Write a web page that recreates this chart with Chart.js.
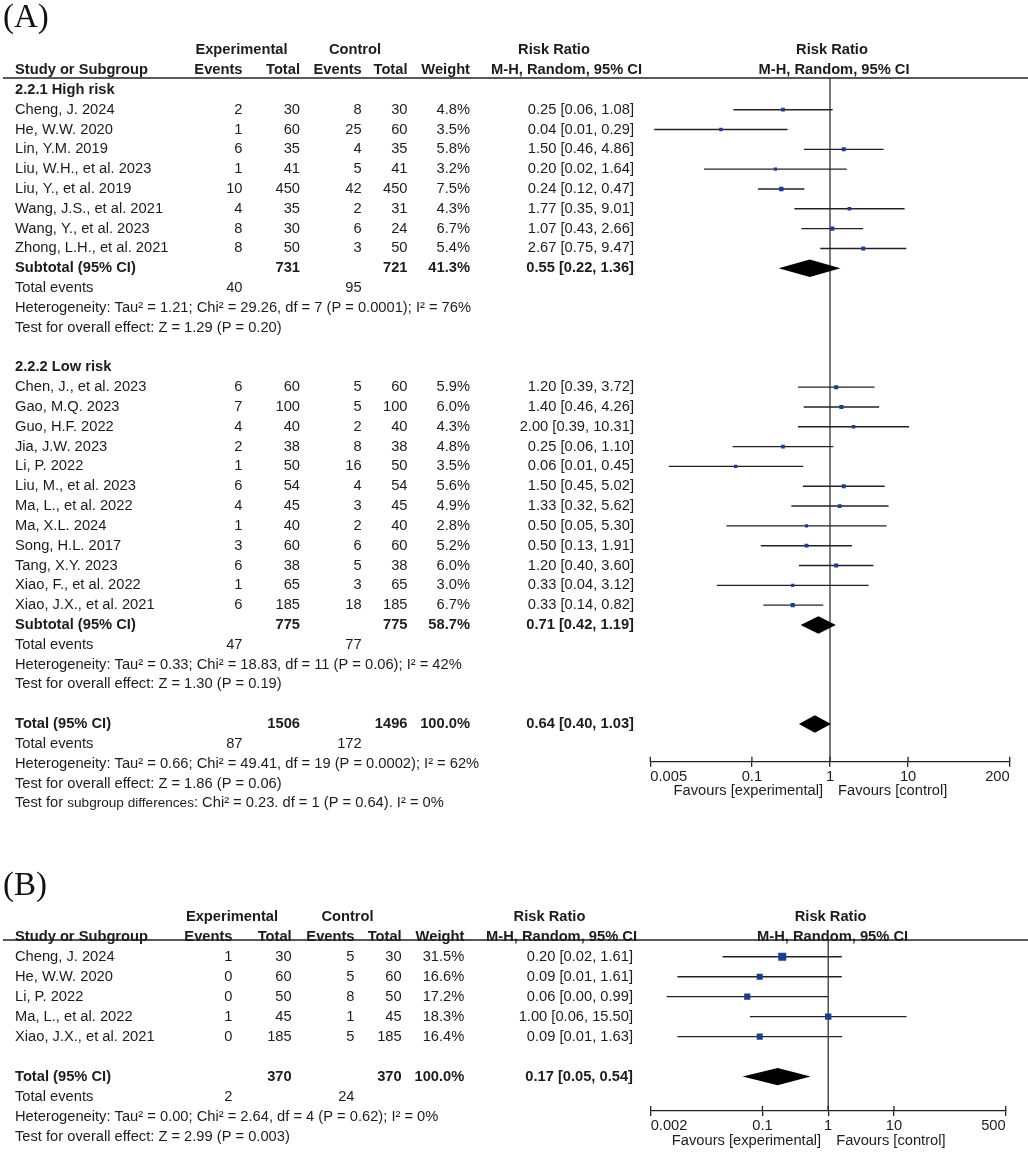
<!DOCTYPE html>
<html>
<head>
<meta charset="utf-8">
<script src="https://cdn.jsdelivr.net/npm/chart.js@4.4.1/dist/chart.umd.min.js"></script>
<style>
  body { margin: 0; background: #fff; width: 1028px; height: 1157px; position: relative; overflow: hidden; }
  canvas { position: absolute; left: 0; }
  #chartA { top: 0; }
  #chartB { top: 860px; }
</style>
</head>
<body>
<canvas id="chartA"></canvas>
<canvas id="chartB"></canvas>
<script>
// --- (A) 2.2.1 High risk ---
const highNames = ['Cheng, J. 2024', 'He, W.W. 2020', 'Lin, Y.M. 2019', 'Liu, W.H., et al. 2023', 'Liu, Y., et al. 2019', 'Wang, J.S., et al. 2021', 'Wang, Y., et al. 2023', 'Zhong, L.H., et al. 2021'];
const highExpEvents = [2, 1, 6, 1, 10, 4, 8, 8];
const highExpTotal  = [30, 60, 35, 41, 450, 35, 30, 50];
const highCtlEvents = [8, 25, 4, 5, 42, 2, 6, 3];
const highCtlTotal  = [30, 60, 35, 41, 450, 31, 24, 50];
const highWeight    = [4.8, 3.5, 5.8, 3.2, 7.5, 4.3, 6.7, 5.4];
const highRR        = [0.25, 0.04, 1.50, 0.20, 0.238, 1.77, 1.067, 2.667];
const highLo        = [0.058, 0.0056, 0.463, 0.0244, 0.12, 0.35, 0.43, 0.75];
const highHi        = [1.08, 0.286, 4.86, 1.64, 0.47, 9.01, 2.66, 9.47];

// --- (A) 2.2.2 Low risk ---
const lowNames = ['Chen, J., et al. 2023', 'Gao, M.Q. 2023', 'Guo, H.F. 2022', 'Jia, J.W. 2023', 'Li, P. 2022', 'Liu, M., et al. 2023', 'Ma, L., et al. 2022', 'Ma, X.L. 2024', 'Song, H.L. 2017', 'Tang, X.Y. 2023', 'Xiao, F., et al. 2022', 'Xiao, J.X., et al. 2021'];
const lowExpEvents = [6, 7, 4, 2, 1, 6, 4, 1, 3, 6, 1, 6];
const lowExpTotal  = [60, 100, 40, 38, 50, 54, 45, 40, 60, 38, 65, 185];
const lowCtlEvents = [5, 5, 2, 8, 16, 4, 3, 2, 6, 5, 3, 18];
const lowCtlTotal  = [60, 100, 40, 38, 50, 54, 45, 40, 60, 38, 65, 185];
const lowWeight    = [5.9, 6.0, 4.3, 4.8, 3.5, 5.6, 4.9, 2.8, 5.2, 6.0, 3.0, 6.7];
const lowRR        = [1.20, 1.40, 2.00, 0.25, 0.062, 1.50, 1.333, 0.50, 0.50, 1.20, 0.333, 0.333];
const lowLo        = [0.39, 0.46, 0.39, 0.0568, 0.0086, 0.45, 0.32, 0.0472, 0.13, 0.40, 0.0356, 0.14];
const lowHi        = [3.72, 4.26, 10.31, 1.10, 0.4536, 5.02, 5.62, 5.30, 1.91, 3.60, 3.12, 0.82];

// --- (A) subtotals [High, Low] ---
const subExpTotal  = [731, 775];
const subCtlTotal  = [721, 775];
const subWeight    = [41.3, 58.7];
const subRR        = [0.55, 0.71];
const subLo        = [0.22, 0.42];
const subHi        = [1.36, 1.19];
const subExpEvents = [40, 47];
const subCtlEvents = [95, 77];
const subHet  = ['Heterogeneity: Tau² = 1.21; Chi² = 29.26, df = 7 (P = 0.0001); I² = 76%',
                 'Heterogeneity: Tau² = 0.33; Chi² = 18.83, df = 11 (P = 0.06); I² = 42%'];
const subTest = ['Test for overall effect: Z = 1.29 (P = 0.20)',
                 'Test for overall effect: Z = 1.30 (P = 0.19)'];

// --- totals [A, B] ---
const allExpTotal  = [1506, 370];
const allCtlTotal  = [1496, 370];
const allRR        = [0.64, 0.17];
const allLo        = [0.40, 0.05];
const allHi        = [1.03, 0.54];
const allExpEvents = [87, 2];
const allCtlEvents = [172, 24];
const allHet  = ['Heterogeneity: Tau² = 0.66; Chi² = 49.41, df = 19 (P = 0.0002); I² = 62%',
                 'Heterogeneity: Tau² = 0.00; Chi² = 2.64, df = 4 (P = 0.62); I² = 0%'];
const allTest = ['Test for overall effect: Z = 1.86 (P = 0.06)',
                 'Test for overall effect: Z = 2.99 (P = 0.003)'];
const subgroupTest = ['Test for ', 'subgroup differences', ': Chi² = 0.23. df = 1 (P = 0.64). I² = 0%'];

// --- (B) ---
const bNames     = ['Cheng, J. 2024', 'He, W.W. 2020', 'Li, P. 2022', 'Ma, L., et al. 2022', 'Xiao, J.X., et al. 2021'];
const bExpEvents = [1, 0, 0, 1, 0];
const bExpTotal  = [30, 60, 50, 45, 185];
const bCtlEvents = [5, 5, 8, 1, 5];
const bCtlTotal  = [30, 60, 50, 45, 185];
const bWeight    = [31.5, 16.6, 17.2, 18.3, 16.4];
const bRR        = [0.20, 0.0909, 0.0588, 1.00, 0.0909];
const bLo        = [0.0248, 0.0051, 0.0035, 0.0645, 0.0051];
const bHi        = [1.61, 1.61, 0.99, 15.50, 1.63];

// --- axis ticks ---
const ticksA = [0.005, 0.1, 1, 10, 200];
const tickLabelsA = ['0.005', '0.1', '1', '10', '200'];
const ticksB = [0.002, 0.1, 1, 10, 500];
const tickLabelsB = ['0.002', '0.1', '1', '10', '500'];

// --- styles ---
const FONT = '"Liberation Sans", Arial, sans-serif';
const FS = 14.7;
const TEXT = '#1c1c1c';
const LINE = '#222222';
const BLUE = '#1d3d91';
const AXIS_H = 44;
const DIAMOND_H = 8.7;

// --- helpers ---
const T = (t, x, align) => ({ t, x, align, bold: false });
const B = (t, x, align) => ({ t, x, align, bold: true });
const ci = (rr, lo, hi) => rr.toFixed(2) + ' [' + lo.toFixed(2) + ', ' + hi.toFixed(2) + ']';
const pct = w => w.toFixed(1) + '%';

function headerRows(c, r) {
    return [
        { r: r, cells: [B('Experimental', c.hExp, 'center'), B('Control', c.hCtl, 'center'),
                        B('Risk Ratio', c.hRR1, 'center'), B('Risk Ratio', c.hPlot1, 'center')] },
        { r: r + 1, cells: [B('Study or Subgroup', c.name, 'left'), B('Events', c.expEv, 'right'),
                            B('Total', c.expTot, 'right'), B('Events', c.ctlEv, 'right'),
                            B('Total', c.ctlTot, 'right'), B('Weight', c.weight, 'right'),
                            B('M-H, Random, 95% CI', c.hRR2, 'center'), B('M-H, Random, 95% CI', c.hPlot2, 'center')] }
    ];
}

function addStudies(p, c, start, names, ee, et, ce, ct, w, rr, lo, hi) {
    names.forEach((n, i) => {
        const r = start + i;
        p.rows.push({ r, cells: [T(n, c.name, 'left'), T(String(ee[i]), c.expEv, 'right'),
            T(String(et[i]), c.expTot, 'right'), T(String(ce[i]), c.ctlEv, 'right'),
            T(String(ct[i]), c.ctlTot, 'right'), T(pct(w[i]), c.weight, 'right'),
            T(ci(rr[i], lo[i], hi[i]), c.ci, 'right')] });
        p.marks.push({ row: r, rr: rr[i], lo: lo[i], hi: hi[i], w: w[i] });
    });
}

function addSummary(p, c, r, label, et, ct, w, rr, lo, hi) {
    p.rows.push({ r, cells: [B(label, c.name, 'left'), B(String(et), c.expTot, 'right'),
        B(String(ct), c.ctlTot, 'right'), B(pct(w), c.weight, 'right'), B(ci(rr, lo, hi), c.ci, 'right')] });
    p.diamonds.push({ row: r, rr, lo, hi });
}

function addFooter(p, c, r, ee, ce, het, test) {
    p.rows.push({ r, cells: [T('Total events', c.name, 'left'), T(String(ee), c.expEv, 'right'), T(String(ce), c.ctlEv, 'right')] });
    p.rows.push({ r: r + 1, cells: [T(het, c.name, 'left')] });
    p.rows.push({ r: r + 2, cells: [T(test, c.name, 'left')] });
}

// --- panel (A) ---
const colsA = { name: 15, expEv: 242.5, expTot: 300, ctlEv: 361.7, ctlTot: 407.5, weight: 470, ci: 634,
                hExp: 241.5, hCtl: 355, hRR1: 554, hRR2: 566.5, hPlot1: 832, hPlot2: 834 };
const panelA = {
    id: 'chartA', width: 1028, height: 840, title: '(A)', titleY: 18.5,
    area: { left: 650.3, right: 1009.7, top: 78, bottom: 761.7 },
    yMin: -1.6, yMax: 32.9, xMin: 0.005, xMax: 200, ticks: ticksA, tickLabels: tickLabelsA,
    rows: headerRows(colsA, -3), marks: [], diamonds: []
};
panelA.rows.push({ r: -1, cells: [B('2.2.1 High risk', colsA.name, 'left')] });
addStudies(panelA, colsA, 0, highNames, highExpEvents, highExpTotal, highCtlEvents, highCtlTotal, highWeight, highRR, highLo, highHi);
addSummary(panelA, colsA, 8, 'Subtotal (95% CI)', subExpTotal[0], subCtlTotal[0], subWeight[0], subRR[0], subLo[0], subHi[0]);
addFooter(panelA, colsA, 9, subExpEvents[0], subCtlEvents[0], subHet[0], subTest[0]);
panelA.rows.push({ r: 13, cells: [B('2.2.2 Low risk', colsA.name, 'left')] });
addStudies(panelA, colsA, 14, lowNames, lowExpEvents, lowExpTotal, lowCtlEvents, lowCtlTotal, lowWeight, lowRR, lowLo, lowHi);
addSummary(panelA, colsA, 26, 'Subtotal (95% CI)', subExpTotal[1], subCtlTotal[1], subWeight[1], subRR[1], subLo[1], subHi[1]);
addFooter(panelA, colsA, 27, subExpEvents[1], subCtlEvents[1], subHet[1], subTest[1]);
addSummary(panelA, colsA, 31, 'Total (95% CI)', allExpTotal[0], allCtlTotal[0], 100, allRR[0], allLo[0], allHi[0]);
addFooter(panelA, colsA, 32, allExpEvents[0], allCtlEvents[0], allHet[0], allTest[0]);
panelA.rows.push({ r: 35, parts: [
    { t: subgroupTest[0], size: FS }, { t: subgroupTest[1], size: 13.6 }, { t: subgroupTest[2], size: FS }], x: colsA.name });

// --- panel (B) ---
const colsB = { name: 15, expEv: 232.5, expTot: 291.7, ctlEv: 354.5, ctlTot: 401.7, weight: 464.3, ci: 633,
                hExp: 232, hCtl: 347.5, hRR1: 549.5, hRR2: 561.5, hPlot1: 830.6, hPlot2: 832.6 };
const panelB = {
    id: 'chartB', width: 1028, height: 297, title: '(B)', titleY: 26,
    area: { left: 650.7, right: 1005.7, top: 80, bottom: 251 },
    yMin: -0.835, yMax: 7.72, xMin: 0.002, xMax: 500, ticks: ticksB, tickLabels: tickLabelsB,
    rows: headerRows(colsB, -2), marks: [], diamonds: []
};
addStudies(panelB, colsB, 0, bNames, bExpEvents, bExpTotal, bCtlEvents, bCtlTotal, bWeight, bRR, bLo, bHi);
addSummary(panelB, colsB, 6, 'Total (95% CI)', allExpTotal[1], allCtlTotal[1], 100, allRR[1], allLo[1], allHi[1]);
addFooter(panelB, colsB, 7, allExpEvents[1], allCtlEvents[1], allHet[1], allTest[1]);

// --- 描画プラグイン (ダイヤ・テキスト・見出し線) ---
function forestPlugin(p) {
    return {
        id: 'forest_' + p.id,
        afterDatasetsDraw(chart) {
            const ctx = chart.ctx, xs = chart.scales.x, ys = chart.scales.y;
            ctx.save();
            ctx.fillStyle = '#000';
            p.diamonds.forEach(d => {
                const y = ys.getPixelForValue(d.row);
                ctx.beginPath();
                ctx.moveTo(xs.getPixelForValue(d.lo), y);
                ctx.lineTo(xs.getPixelForValue(d.rr), y - DIAMOND_H);
                ctx.lineTo(xs.getPixelForValue(d.hi), y);
                ctx.lineTo(xs.getPixelForValue(d.rr), y + DIAMOND_H);
                ctx.closePath();
                ctx.fill();
            });
            ctx.restore();
        },
        afterDraw(chart) {
            const ctx = chart.ctx, xs = chart.scales.x, ys = chart.scales.y, area = chart.chartArea;
            ctx.save();
            // header rule
            ctx.strokeStyle = LINE;
            ctx.lineWidth = 1.5;
            ctx.beginPath();
            ctx.moveTo(3, area.top);
            ctx.lineTo(chart.width, area.top);
            ctx.stroke();
            // upper half of the axis ticks
            ctx.lineWidth = 1.3;
            xs.ticks.forEach(t => {
                const x = xs.getPixelForValue(t.value);
                ctx.beginPath();
                ctx.moveTo(x, area.bottom - 5);
                ctx.lineTo(x, area.bottom);
                ctx.stroke();
            });
            // table text
            ctx.fillStyle = TEXT;
            ctx.textBaseline = 'middle';
            p.rows.forEach(row => {
                const y = ys.getPixelForValue(row.r);
                if (row.parts) {
                    let x = row.x;
                    ctx.textAlign = 'left';
                    row.parts.forEach(part => {
                        ctx.font = part.size + 'px ' + FONT;
                        ctx.fillText(part.t, x, y);
                        x += ctx.measureText(part.t).width;
                    });
                    return;
                }
                row.cells.forEach(c => {
                    ctx.font = (c.bold ? 'bold ' : '') + FS + 'px ' + FONT;
                    ctx.textAlign = c.align;
                    ctx.fillText(c.t, c.x, y);
                });
            });
            // favours labels
            const x1 = xs.getPixelForValue(1);
            const fy = area.bottom + 29.5;
            ctx.font = FS + 'px ' + FONT;
            ctx.textAlign = 'right';
            ctx.fillText('Favours [experimental]', x1 - 7, fy);
            ctx.textAlign = 'left';
            ctx.fillText('Favours [control]', x1 + 8, fy);
            // panel title
            ctx.font = '33px "Liberation Serif", "Times New Roman", serif';
            ctx.fillStyle = '#111';
            ctx.fillText(p.title, 3, p.titleY);
            ctx.restore();
        }
    };
}

function drawPanel(p) {
    const canvas = document.getElementById(p.id);
    canvas.width = p.width;
    canvas.height = p.height;
    canvas.style.width = p.width + 'px';
    canvas.style.height = p.height + 'px';

    const datasets = [];
    // squares (first dataset is drawn on top)
    datasets.push({
        data: p.marks.map(m => ({ x: m.rr, y: m.row })),
        showLine: false,
        pointStyle: 'rect',
        pointRadius: p.marks.map(m => (1 + 1.25 * Math.sqrt(m.w)) / Math.SQRT2),
        backgroundColor: BLUE,
        borderWidth: 0,
        pointBorderWidth: 0
    });
    // confidence intervals
    p.marks.forEach(m => {
        datasets.push({
            data: [{ x: m.lo, y: m.row }, { x: m.hi, y: m.row }],
            showLine: true, borderColor: LINE, borderWidth: 1.4, pointRadius: 0
        });
    });
    // line of no effect
    datasets.push({
        data: [{ x: 1, y: p.yMin }, { x: 1, y: p.yMax }],
        showLine: true, borderColor: '#333333', borderWidth: 1.3, pointRadius: 0
    });

    new Chart(canvas, {
        type: 'scatter',
        data: { datasets },
        options: {
            responsive: false,
            animation: false,
            events: [],
            layout: { padding: {
                left: p.area.left,
                right: p.width - p.area.right,
                top: p.area.top,
                bottom: p.height - p.area.bottom - AXIS_H
            } },
            plugins: { legend: { display: false }, tooltip: { enabled: false } },
            scales: {
                x: {
                    type: 'logarithmic',
                    min: p.xMin,
                    max: p.xMax,
                    afterBuildTicks: s => { s.ticks = p.ticks.map(v => ({ value: v })); },
                    afterFit: s => { s.height = AXIS_H; },
                    ticks: {
                        align: 'inner', autoSkip: false, maxRotation: 0, padding: 1,
                        color: TEXT, font: { family: FONT, size: FS },
                        callback: (v, i) => p.tickLabels[i]
                    },
                    grid: { display: true, drawOnChartArea: false, drawTicks: true, tickLength: 5, color: LINE, lineWidth: 1.3 },
                    border: { display: true, color: LINE, width: 1.3 }
                },
                y: { type: 'linear', display: false, reverse: true, min: p.yMin, max: p.yMax }
            }
        },
        plugins: [forestPlugin(p)]
    });
}

drawPanel(panelA);
drawPanel(panelB);
</script>
</body>
</html>
